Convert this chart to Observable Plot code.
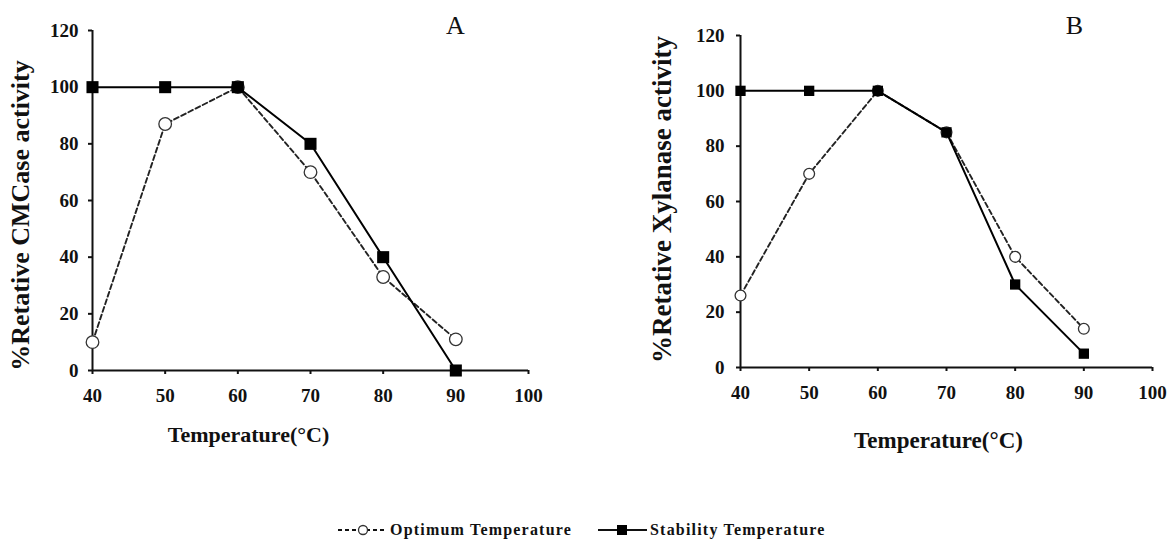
<!DOCTYPE html>
<html>
<head>
<meta charset="utf-8">
<script src="https://cdn.jsdelivr.net/npm/d3@7"></script>
<script src="https://cdn.jsdelivr.net/npm/@observablehq/plot@0.6"></script>
<style>
  body { margin: 0; background: #fff; }
  #figure { position: relative; width: 1168px; height: 543px; overflow: hidden;
            font-family: "Liberation Serif", "Times New Roman", serif; color: #111; }
  .panel { position: absolute; top: 0; }
  .legend-item { position: absolute; display: flex; align-items: center; height: 18px;
                 font-weight: bold; font-size: 16px; letter-spacing: 1.2px; white-space: nowrap; }
  .legend-item svg { display: block; margin-right: 3px; }
</style>
</head>
<body>
<div id="figure"></div>
<script>
// Temperature profile of the two enzymes (% relative activity)
const temperatures = [40, 50, 60, 70, 80, 90];
const cmcaseOptimum = [10, 87, 100, 70, 33, 11];
const cmcaseStability = [100, 100, 100, 80, 40, 0];
const xylanaseOptimum = [26, 70, 100, 85, 40, 14];
const xylanaseStability = [100, 100, 100, 85, 30, 5];
const xTicks = [40, 50, 60, 70, 80, 90, 100];
const yTicks = [0, 20, 40, 60, 80, 100, 120];
const seriesNames = ["Optimum Temperature", "Stability Temperature"];
const xTitle = "Temperature(°C)";

const rows = (values, series) => temperatures.map((t, i) => ({t, v: values[i], series}));

function panel(cfg) {
  const opt = rows(cfg.optimum, seriesNames[0]);
  const stab = rows(cfg.stability, seriesNames[1]);
  const chart = Plot.plot({
    width: cfg.width,
    height: 460,
    marginLeft: cfg.margin[0],
    marginRight: cfg.margin[1],
    marginTop: cfg.margin[2],
    marginBottom: cfg.margin[3],
    style: {fontFamily: '"Liberation Serif", "Times New Roman", serif', fontSize: "19px",
            fontWeight: "bold", color: "#111", background: "transparent", overflow: "visible"},
    x: {domain: [40, 100]},
    y: {domain: [0, 120]},
    marks: [
      Plot.axisX({ticks: xTicks, tickSize: 4, tickPadding: 14, strokeWidth: 2, label: null,
                  fontSize: 19, fontWeight: "bold"}),
      Plot.axisY({ticks: yTicks, tickSize: 4, tickPadding: cfg.padY, strokeWidth: 2, label: null,
                  fontSize: 19, fontWeight: "bold"}),
      Plot.ruleX([40], {stroke: "#111", strokeWidth: 2}),
      Plot.ruleY([0], {stroke: "#111", strokeWidth: 2}),
      Plot.line(opt, {x: "t", y: "v", stroke: "#222", strokeWidth: 1.9, strokeDasharray: "5,3"}),
      Plot.dot(opt, {x: "t", y: "v", r: cfg.circle, stroke: "#333", strokeWidth: 1.3, fill: "white"}),
      Plot.line(stab, {x: "t", y: "v", stroke: "#000", strokeWidth: 2}),
      Plot.dot(stab, {x: "t", y: "v", symbol: "square", r: cfg.square, fill: "#000", stroke: "none"}),
      Plot.text([cfg.yLabel], {frameAnchor: "left", textAnchor: "middle", lineAnchor: "middle",
                               rotate: -90, dx: cfg.yTitle[0], dy: cfg.yTitle[1],
                               fontSize: cfg.yTitleSize, fontWeight: "bold"}),
      Plot.text([xTitle], {frameAnchor: "bottom", textAnchor: "middle", lineAnchor: "middle",
                           dx: cfg.xTitle[0], dy: cfg.xTitle[1], fontSize: cfg.xTitleSize, fontWeight: "bold"}),
      Plot.text([cfg.letter], {frameAnchor: "top-left", textAnchor: "middle", lineAnchor: "middle",
                               dx: cfg.letterPos[0], dy: cfg.letterPos[1],
                               fontSize: 26, fontWeight: "normal"})
    ]
  });
  chart.classList.add("panel");
  chart.style.left = cfg.left + "px";
  return chart;
}

const fig = document.getElementById("figure");

fig.appendChild(panel({
  letter: "A", yLabel: "%Retative CMCase activity",
  optimum: cmcaseOptimum, stability: cmcaseStability,
  left: 0, width: 584, margin: [92, 56, 30, 90], padY: 10,
  yTitle: [-72, 15], xTitle: [-62, 64], letterPos: [363, -5],
  yTitleSize: 26, xTitleSize: 22,
  circle: 6.3, square: 6.8
}));

fig.appendChild(panel({
  letter: "B", yLabel: "%Retative Xylanase activity",
  optimum: xylanaseOptimum, stability: xylanaseStability,
  left: 584, width: 584, margin: [156, 16, 35, 93], padY: 12,
  yTitle: [-78, -2], xTitle: [-8, 73], letterPos: [334, -10],
  yTitleSize: 27, xTitleSize: 23,
  circle: 5.4, square: 5.8
}));

// Legend below both panels
const legendItems = [
  {name: seriesNames[0], left: 338, dashed: true},
  {name: seriesNames[1], left: 598, dashed: false}
];
for (const item of legendItems) {
  const div = document.createElement("div");
  div.className = "legend-item";
  div.style.left = item.left + "px";
  div.style.top = "521px";
  const svg = d3.create("svg").attr("width", 49).attr("height", 18);
  svg.append("line").attr("x1", 0).attr("x2", 49).attr("y1", 9).attr("y2", 9)
    .attr("stroke", "#111").attr("stroke-width", 2)
    .attr("stroke-dasharray", item.dashed ? "4,3" : null);
  if (item.dashed) {
    svg.append("circle").attr("cx", 25).attr("cy", 9).attr("r", 4.5)
      .attr("fill", "white").attr("stroke", "#333").attr("stroke-width", 1.3);
  } else {
    svg.append("rect").attr("x", 19).attr("y", 4).attr("width", 10).attr("height", 10).attr("fill", "#000");
  }
  div.appendChild(svg.node());
  const span = document.createElement("span");
  span.textContent = item.name;
  div.appendChild(span);
  fig.appendChild(div);
}
</script>
</body>
</html>
